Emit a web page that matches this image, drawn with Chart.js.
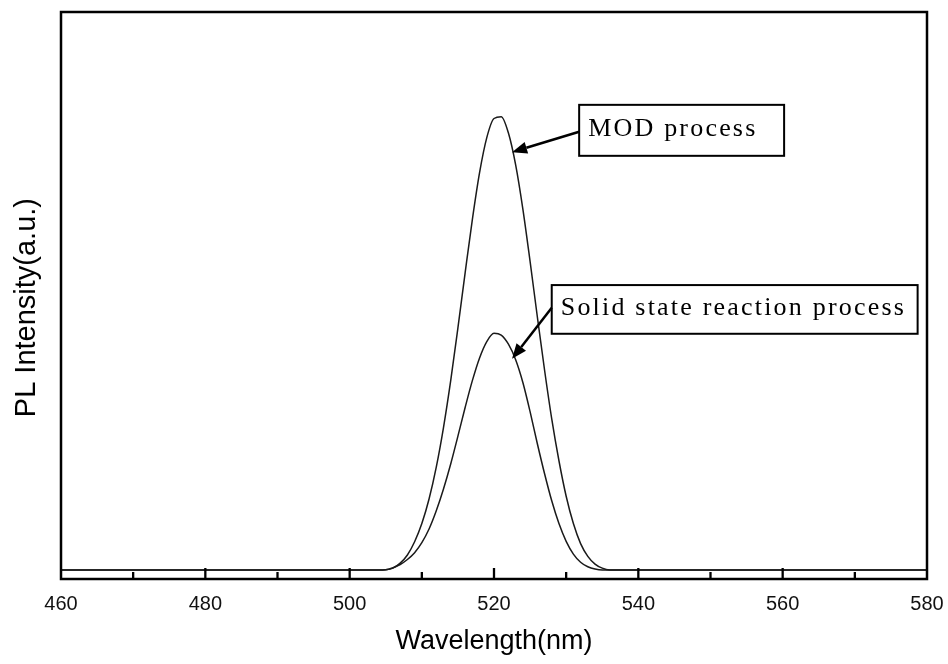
<!DOCTYPE html>
<html>
<head>
<meta charset="utf-8">
<title>PL spectra</title>
<script src="https://cdn.jsdelivr.net/npm/chart.js@4.4.1/dist/chart.umd.min.js"></script>
<style>
  html, body { margin:0; padding:0; background:#fff; }
  #wrap { width:948px; height:664px; }
</style>
</head>
<body>
<div id="wrap"><canvas id="plChart" width="948" height="664"></canvas></div>
<script>
// wavelength (nm) and PL intensity (a.u., MOD peak ~100)
const wavelength = [460, 480, 500, 504,
  505, 506, 507, 508, 509, 510, 511, 512, 513, 514, 515, 516, 517, 518, 519, 520,
  521, 522, 523, 524, 525, 526, 527, 528, 529, 530, 531, 532, 533, 534, 535, 536,
  540, 560, 580];
const modIntensity = [0, 0, 0, 0,
  0.05, 0.4, 1.5, 3.3, 6.2, 10.2, 15.6, 22.6, 31.3, 41.6, 53.2, 65.3, 77.0, 87.3, 95.0, 99.2,
  99.6, 96.0, 89.0, 79.3, 67.8, 55.7, 44.0, 33.2, 24.0, 16.2, 10.2, 5.8, 3.0, 1.3, 0.4, 0,
  0, 0, 0];
const solidIntensity = [0, 0, 0, 0,
  0.05, 0.5, 1.2, 2.3, 3.8, 6.0, 9.0, 13.0, 17.8, 23.3, 29.4, 35.7, 41.6, 46.6, 50.2, 52.0,
  51.6, 49.6, 46.2, 41.2, 34.8, 27.8, 21.2, 15.2, 10.2, 6.3, 3.5, 1.7, 0.7, 0.2, 0, 0,
  0, 0, 0];
const seriesNames = ['MOD process', 'Solid state reaction process'];
const xTickLabels = [460, 480, 500, 520, 540, 560, 580];

// callout boxes, given in data units: [x1, yTop, x2, yBottom], arrow start and tip
const callouts = [
  { text: seriesNames[0], box: [531.8, 102.2, 560.2, 91.0], from: [531.8, 96.3], tip: [522.5, 91.8] },
  { text: seriesNames[1], box: [528.0, 62.6, 578.7, 51.9], from: [528.0, 57.6], tip: [522.5, 46.4] }
];

const toPts = ys => wavelength.map((x, i) => ({ x, y: ys[i] }));

// frame, inward ticks, callouts
const framePlugin = {
  id: 'frame',
  afterDatasetsDraw(chart) {
    const { ctx, chartArea: a, scales: { x, y } } = chart;
    ctx.save();
    ctx.strokeStyle = '#000';
    ctx.lineWidth = 2.5;
    ctx.strokeRect(a.left, a.top, a.right - a.left, a.bottom - a.top);

    // ticks pointing up into the plot
    ctx.lineWidth = 2.3;
    x.ticks.forEach(t => {
      if (t.value <= x.min || t.value >= x.max) return;
      const px = x.getPixelForValue(t.value);
      const len = xTickLabels.includes(t.value) ? 11 : 7;
      ctx.beginPath();
      ctx.moveTo(px, a.bottom);
      ctx.lineTo(px, a.bottom - len);
      ctx.stroke();
    });

    callouts.forEach(c => {
      const x1 = x.getPixelForValue(c.box[0]), y1 = y.getPixelForValue(c.box[1]);
      const x2 = x.getPixelForValue(c.box[2]), y2 = y.getPixelForValue(c.box[3]);
      ctx.fillStyle = '#fff';
      ctx.fillRect(x1, y1, x2 - x1, y2 - y1);
      ctx.lineWidth = 2;
      ctx.strokeStyle = '#000';
      ctx.strokeRect(x1, y1, x2 - x1, y2 - y1);
      ctx.fillStyle = '#000';
      ctx.font = '26px "Liberation Serif", "Times New Roman", serif';
      ctx.letterSpacing = '2.2px';
      ctx.textBaseline = 'middle';
      ctx.fillText(c.text, x1 + 9, (y1 + y2) / 2 - 1);
      ctx.letterSpacing = '0px';

      // arrow
      const fx = x.getPixelForValue(c.from[0]), fy = y.getPixelForValue(c.from[1]);
      const tx = x.getPixelForValue(c.tip[0]), ty = y.getPixelForValue(c.tip[1]);
      const ang = Math.atan2(ty - fy, tx - fx);
      const head = 15, half = 6;
      const bx = tx - head * Math.cos(ang), by = ty - head * Math.sin(ang);
      ctx.lineWidth = 2.5;
      ctx.beginPath();
      ctx.moveTo(fx, fy);
      ctx.lineTo(bx, by);
      ctx.stroke();
      ctx.beginPath();
      ctx.moveTo(tx, ty);
      ctx.lineTo(bx + half * Math.sin(ang), by - half * Math.cos(ang));
      ctx.lineTo(bx - half * Math.sin(ang), by + half * Math.cos(ang));
      ctx.closePath();
      ctx.fill();
    });
    ctx.restore();
  }
};

new Chart(document.getElementById('plChart'), {
  type: 'line',
  data: {
    datasets: [
      { label: seriesNames[0], data: toPts(modIntensity) },
      { label: seriesNames[1], data: toPts(solidIntensity) }
    ]
  },
  options: {
    responsive: false,
    animation: false,
    layout: { padding: { top: 12, right: 21, left: 0, bottom: 0 } },
    elements: {
      point: { radius: 0 },
      line: { borderColor: '#1a1a1a', borderWidth: 1.5, cubicInterpolationMode: 'monotone', fill: false }
    },
    plugins: { legend: { display: false }, tooltip: { enabled: false } },
    scales: {
      x: {
        type: 'linear', min: 460, max: 580,
        afterFit: s => { s.height = 85; s.paddingLeft = 0; s.paddingRight = 0; },
        grid: { display: false },
        border: { display: false },
        ticks: {
          stepSize: 10, autoSkip: false, maxRotation: 0, padding: 5,
          color: '#111',
          font: { family: '"Liberation Sans", Arial, sans-serif', size: 20 },
          callback: v => xTickLabels.includes(v) ? v : ''
        },
        title: {
          display: true, text: 'Wavelength(nm)', color: '#000',
          font: { family: '"Liberation Sans", Arial, sans-serif', size: 27 },
          padding: { top: 0, bottom: 6 }
        }
      },
      y: {
        min: -1.98, max: 122.6,
        afterFit: s => { s.width = 61; },
        grid: { display: false },
        border: { display: false },
        ticks: { display: false },
        title: {
          display: true, text: 'PL Intensity(a.u.)   ', color: '#000',
          font: { family: '"Liberation Sans", Arial, sans-serif', size: 29 },
          padding: { top: 10, bottom: 0 }
        }
      }
    }
  },
  plugins: [framePlugin]
});
</script>
</body>
</html>
